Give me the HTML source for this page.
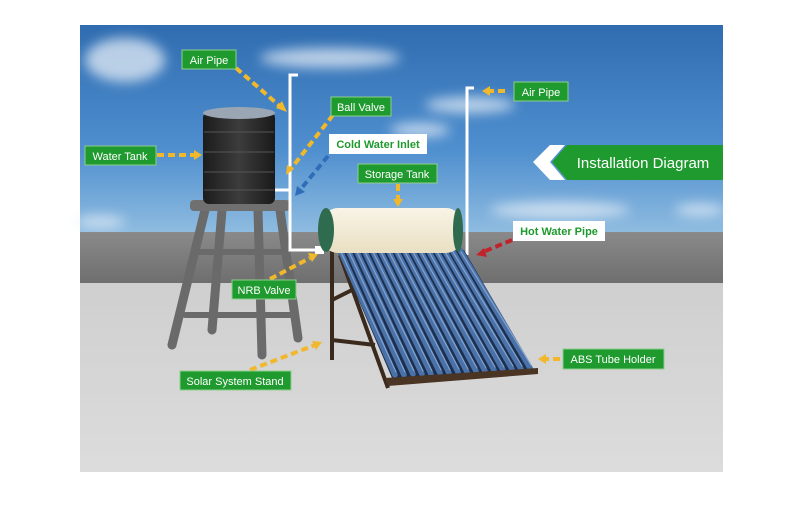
<!DOCTYPE html>
<html><head><meta charset="utf-8"><style>
body{margin:0;background:#fff;}
svg{display:block;}
text{font-family:"Liberation Sans",sans-serif;}
</style></head><body>
<svg width="800" height="510" viewBox="0 0 800 510" xmlns="http://www.w3.org/2000/svg">
<defs>
<linearGradient id="sky" x1="0" y1="0" x2="0" y2="1">
<stop offset="0" stop-color="#2f6cb0"/><stop offset="0.6" stop-color="#4f8fcf"/><stop offset="1" stop-color="#8fbce0"/>
</linearGradient>
<linearGradient id="wall" x1="0" y1="0" x2="0" y2="1">
<stop offset="0" stop-color="#8a8a8a"/><stop offset="1" stop-color="#6e6e6e"/>
</linearGradient>
<linearGradient id="floor" x1="0" y1="0" x2="0" y2="1">
<stop offset="0" stop-color="#cfcfcf"/><stop offset="1" stop-color="#dcdcdc"/>
</linearGradient>
<linearGradient id="tank" x1="0" y1="0" x2="1" y2="0">
<stop offset="0" stop-color="#1c1c1c"/><stop offset="0.5" stop-color="#3c3c3c"/><stop offset="1" stop-color="#1a1a1a"/>
</linearGradient>
<linearGradient id="st" x1="0" y1="0" x2="0" y2="1">
<stop offset="0" stop-color="#f8f4e6"/><stop offset="1" stop-color="#e9dfc2"/>
</linearGradient>
<filter id="bl"><feGaussianBlur stdDeviation="6"/></filter>
</defs>
<rect x="80" y="25" width="643" height="208" fill="url(#sky)"/>
<g fill="#e6eef7" opacity="0.75" filter="url(#bl)">
<ellipse cx="125" cy="60" rx="40" ry="22"/>
<ellipse cx="330" cy="58" rx="70" ry="10"/>
<ellipse cx="470" cy="105" rx="45" ry="8"/>
<ellipse cx="420" cy="130" rx="30" ry="7"/>
<ellipse cx="560" cy="210" rx="70" ry="8"/>
<ellipse cx="100" cy="222" rx="25" ry="6"/>
<ellipse cx="700" cy="210" rx="25" ry="6"/>
</g>
<rect x="80" y="232" width="643" height="52" fill="url(#wall)"/>
<rect x="80" y="283" width="643" height="189" fill="url(#floor)"/>
<!-- stool -->
<g stroke="#6a6a6a" stroke-width="9" stroke-linecap="round" fill="none">
<line x1="205" y1="210" x2="172" y2="345"/>
<line x1="222" y1="210" x2="212" y2="330"/>
<line x1="258" y1="210" x2="262" y2="355"/>
<line x1="280" y1="210" x2="298" y2="338"/>
<line x1="195" y1="252" x2="287" y2="252" stroke-width="6"/>
<line x1="185" y1="315" x2="294" y2="315" stroke-width="6"/>
</g>
<rect x="190" y="200" width="100" height="11" rx="4" fill="#707070"/>
<!-- water tank -->
<rect x="203" y="112" width="72" height="92" rx="6" fill="url(#tank)"/>
<ellipse cx="239" cy="113" rx="36" ry="6" fill="#9aa6b4"/>
<g stroke="#555" stroke-width="1">
<line x1="204" y1="132" x2="274" y2="132"/><line x1="204" y1="152" x2="274" y2="152"/>
<line x1="204" y1="172" x2="274" y2="172"/><line x1="204" y1="190" x2="274" y2="190"/>
</g>
<!-- pipes -->
<g stroke="#fff" stroke-width="3" fill="none">
<polyline points="298,75 290,75 290,250 320,250"/>
<polyline points="474,88 467,88 467,255"/>
<line x1="275" y1="190" x2="290" y2="190"/>
</g>
<rect x="315" y="246" width="9" height="8" fill="#fff"/>
<!-- collector -->
<g stroke="#3a2a1e" stroke-width="4">
<line x1="332" y1="250" x2="332" y2="360"/>
<line x1="340" y1="255" x2="388" y2="388"/>
<line x1="332" y1="340" x2="375" y2="345"/>
<line x1="332" y1="300" x2="352" y2="290"/>
</g>
<polygon points="337,250 464,250 534,370 392,378" fill="#1d2f4e"/>
<g stroke-linecap="round">
<g stroke="#4b72a8" stroke-width="5.5">
<line x1="340" y1="250" x2="395" y2="375"/><line x1="348" y1="250" x2="404" y2="375"/>
<line x1="356" y1="250" x2="413" y2="374"/><line x1="364" y1="250" x2="422" y2="374"/>
<line x1="372" y1="250" x2="431" y2="374"/><line x1="380" y1="250" x2="440" y2="373"/>
<line x1="388" y1="250" x2="449" y2="373"/><line x1="396" y1="250" x2="458" y2="372"/>
<line x1="404" y1="250" x2="467" y2="372"/><line x1="412" y1="250" x2="476" y2="371"/>
<line x1="420" y1="250" x2="485" y2="371"/><line x1="428" y1="250" x2="494" y2="370"/>
<line x1="436" y1="250" x2="503" y2="370"/><line x1="444" y1="250" x2="512" y2="369"/>
<line x1="452" y1="250" x2="521" y2="369"/><line x1="460" y1="250" x2="530" y2="368"/>
</g>
<g stroke="#8fb0d8" stroke-width="1.2" opacity="0.8">
<line x1="341" y1="252" x2="396" y2="372"/><line x1="349" y1="252" x2="405" y2="372"/>
<line x1="357" y1="252" x2="414" y2="371"/><line x1="365" y1="252" x2="423" y2="371"/>
<line x1="373" y1="252" x2="432" y2="371"/><line x1="381" y1="252" x2="441" y2="370"/>
<line x1="389" y1="252" x2="450" y2="370"/><line x1="397" y1="252" x2="459" y2="369"/>
<line x1="405" y1="252" x2="468" y2="369"/><line x1="413" y1="252" x2="477" y2="368"/>
<line x1="421" y1="252" x2="486" y2="368"/><line x1="429" y1="252" x2="495" y2="367"/>
<line x1="437" y1="252" x2="504" y2="367"/><line x1="445" y1="252" x2="513" y2="366"/>
<line x1="453" y1="252" x2="522" y2="366"/><line x1="461" y1="252" x2="531" y2="365"/>
</g>
</g>
<polygon points="385,378 538,368 538,374 388,386" fill="#4a3424"/>
<!-- storage tank -->
<rect x="322" y="208" width="140" height="45" rx="16" fill="url(#st)"/>
<ellipse cx="326" cy="230" rx="8" ry="22" fill="#2f6b4f"/>
<ellipse cx="458" cy="230" rx="5" ry="22" fill="#2f6b4f"/>
<!-- arrows -->
<g stroke="#f0b82a" stroke-width="4" stroke-dasharray="7,4" fill="none">
<line x1="236" y1="68" x2="282" y2="108"/>
<line x1="157" y1="155" x2="195" y2="155"/>
<line x1="333" y1="115" x2="290" y2="170"/>
<line x1="398" y1="184" x2="398" y2="200"/>
<line x1="505" y1="91" x2="488" y2="91"/>
<line x1="270" y1="279" x2="310" y2="258"/>
<line x1="250" y1="370" x2="315" y2="345"/>
<line x1="560" y1="359" x2="545" y2="359"/>
</g>
<g fill="#f0b82a">
<polygon points="287,112 276,108 282,101"/>
<polygon points="202,155 194,150 194,160"/>
<polygon points="286,175 287,165 294,169"/>
<polygon points="398,207 393,199 403,199"/>
<polygon points="482,91 490,86 490,96"/>
<polygon points="318,254 308,253 312,262"/>
<polygon points="322,342 312,341 316,350"/>
<polygon points="538,359 546,354 546,364"/>
</g>
<line x1="328" y1="156" x2="300" y2="190" stroke="#2f6db8" stroke-width="4" stroke-dasharray="7,4"/>
<polygon points="295,196 297,186 305,192" fill="#2f6db8"/>
<line x1="512" y1="240" x2="483" y2="252" stroke="#c0242a" stroke-width="4" stroke-dasharray="7,4"/>
<polygon points="476,255 484,248 487,257" fill="#c0242a"/>
<!-- labels -->
<g font-size="11" fill="#fff">
<rect x="182" y="50" width="54" height="19" fill="#1f9a2e" stroke="#8ccf8c"/><text x="209" y="64" text-anchor="middle">Air Pipe</text>
<rect x="85" y="146" width="71" height="19" fill="#1f9a2e" stroke="#8ccf8c"/><text x="120" y="160" text-anchor="middle">Water Tank</text>
<rect x="331" y="97" width="60" height="19" fill="#1f9a2e" stroke="#8ccf8c"/><text x="361" y="111" text-anchor="middle">Ball Valve</text>
<rect x="358" y="164" width="79" height="19" fill="#1f9a2e" stroke="#8ccf8c"/><text x="397" y="178" text-anchor="middle">Storage Tank</text>
<rect x="514" y="82" width="54" height="19" fill="#1f9a2e" stroke="#8ccf8c"/><text x="541" y="96" text-anchor="middle">Air Pipe</text>
<rect x="232" y="280" width="64" height="19" fill="#1f9a2e" stroke="#8ccf8c"/><text x="264" y="294" text-anchor="middle">NRB Valve</text>
<rect x="180" y="371" width="111" height="19" fill="#1f9a2e" stroke="#8ccf8c"/><text x="235" y="385" text-anchor="middle">Solar System Stand</text>
<rect x="563" y="349" width="101" height="20" fill="#1f9a2e" stroke="#8ccf8c"/><text x="613" y="363" text-anchor="middle">ABS Tube Holder</text>
</g>
<g font-size="11" font-weight="bold" fill="#1f9a2e">
<rect x="329" y="134" width="98" height="20" fill="#fff"/><text x="378" y="148" text-anchor="middle">Cold Water Inlet</text>
<rect x="513" y="221" width="92" height="20" fill="#fff"/><text x="559" y="235" text-anchor="middle">Hot Water Pipe</text>
</g>
<polygon points="533,162 550,145 565,145 550,162 565,180 550,180" fill="#fff"/>
<polygon points="552,162 567,145 723,145 723,180 567,180" fill="#1f9a2e"/>
<text x="643" y="168" font-size="15" fill="#fff" text-anchor="middle">Installation Diagram</text>
</svg>
</body></html>
